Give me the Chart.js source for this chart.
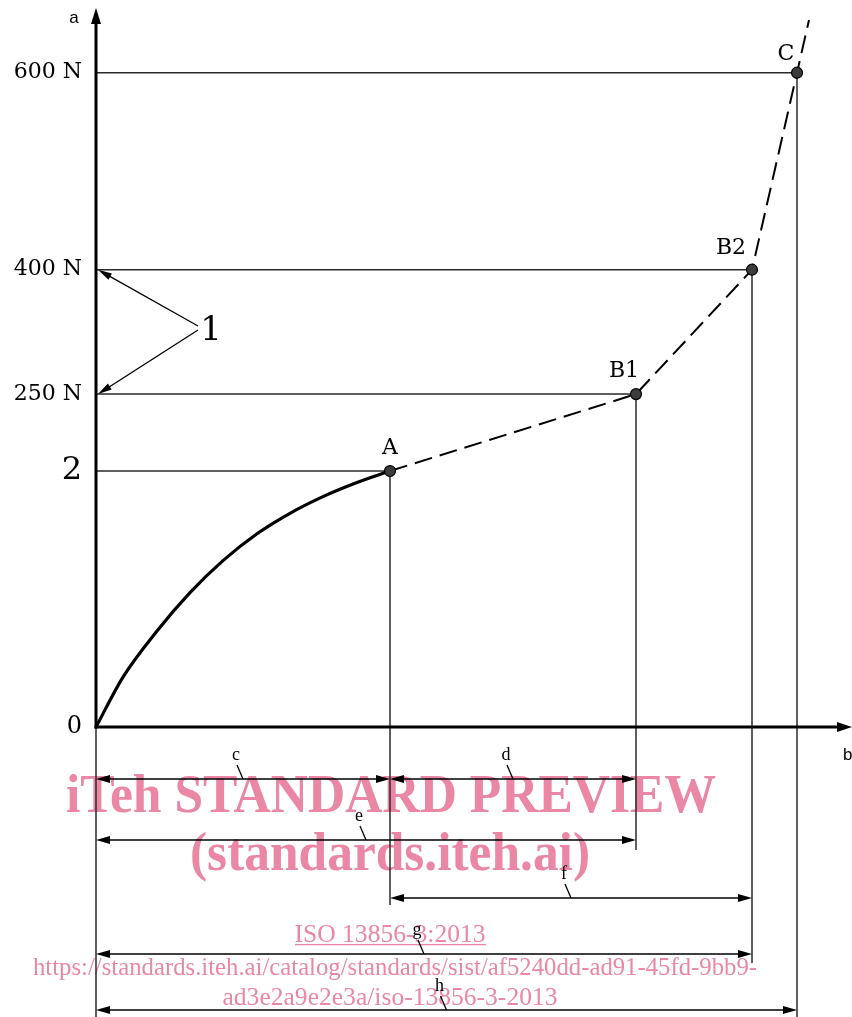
<!DOCTYPE html>
<html>
<head>
<meta charset="utf-8">
<script src="https://cdn.jsdelivr.net/npm/chart.js@4/dist/chart.umd.min.js"></script>
<style>
  html, body { margin: 0; padding: 0; background: #fff; overflow: hidden; }
  canvas { display: block; }
</style>
</head>
<body>
<canvas id="diagram" width="852" height="1017"></canvas>
<script>
// ---- Force / elongation data -------------------------------------------
const POINT_NAMES = ['A', 'B1', 'B2', 'C'];
const POINT_ELONG = [29.4, 54.0, 65.6, 70.1];      // b
const POINT_FORCE = [200, 250, 400, 600];          // a, N
const CURVE_ELONG = [0, 2.7, 6.1, 9.4, 12.7, 16.1, 19.4, 22.7, 26.1, 29.4];
const CURVE_FORCE = [0, 39, 75, 105, 130, 151, 167, 180, 191, 200];
const TAIL_ELONG = 71.3;                           // dashed line runs on past C
const TAIL_FORCE = 657;
const Y_TICK_VALUES = [0, 200, 250, 400, 600];
const Y_TICK_LABELS = ['0', '2', '250 N', '400 N', '600 N'];
const DIM_LABELS = ['c', 'd', 'e', 'f', 'g', 'h'];
const DIM_FROM   = ['O', 'A', 'O', 'A', 'O', 'O'];
const DIM_TO     = ['A', 'B1', 'B1', 'B2', 'B2', 'C'];

// ---- Layout ---------------------------------------------------------------
const DIM_ROWS = [779, 779, 840, 898, 954, 1010];
const EXT_BOTTOM = { O: 1017, A: 905, B1: 850, B2: 963, C: 1017 };
const LABEL_OFFSETS = { A: [0, -17], B1: [-12, -17], B2: [-21, -16], C: [-11, -13] };
const INK = '#000';
const THIN = '#2a2a2a';
const PINK = '#ea87a4';
const SERIF = '"DejaVu Serif", serif';

// The force axis is schematic: each force level sits at its own height.
class SchematicScale extends Chart.LinearScale {
  _seg(key, v) {
    const b = this.options.breaks;
    let i = 1;
    while (i < b.length - 1 && v > b[i][key]) i++;
    return [b[i - 1], b[i]];
  }
  getPixelForValue(value) {
    if (value === null || isNaN(value)) return NaN;
    const [p, q] = this._seg(0, value);
    return this.getPixelForDecimal(p[1] + (value - p[0]) * (q[1] - p[1]) / (q[0] - p[0]));
  }
  getValueForPixel(pixel) {
    const d = this.getDecimalForPixel(pixel);
    const [p, q] = this._seg(1, d);
    return p[0] + (d - p[1]) * (q[0] - p[0]) / (q[1] - p[1]);
  }
}
SchematicScale.id = 'schematic';
SchematicScale.defaults = Chart.LinearScale.defaults;
Chart.register(SchematicScale);

function xy(xsArr, ysArr) { return xsArr.map((x, i) => ({ x, y: ysArr[i] })); }

function arrowHead(ctx, tx, ty, dx, dy, len, half) {
  const n = Math.hypot(dx, dy); dx /= n; dy /= n;
  const bx = tx - dx * len, by = ty - dy * len;
  ctx.beginPath();
  ctx.moveTo(tx, ty);
  ctx.lineTo(bx - dy * half, by + dx * half);
  ctx.lineTo(bx + dy * half, by - dx * half);
  ctx.closePath();
  ctx.fill();
}

function line(ctx, x1, y1, x2, y2) {
  ctx.beginPath(); ctx.moveTo(x1, y1); ctx.lineTo(x2, y2); ctx.stroke();
}

function fittedText(ctx, text, cx, baseline, font, width) {
  ctx.save();
  ctx.font = font;
  const w = ctx.measureText(text).width;
  ctx.translate(cx, baseline);
  ctx.scale(width / w, 1);
  ctx.textAlign = 'center';
  ctx.textBaseline = 'alphabetic';
  ctx.fillText(text, 0, 0);
  ctx.restore();
}

const diagramPlugin = {
  id: 'diagram',
  beforeDraw(chart) {
    const ctx = chart.ctx;
    ctx.save();
    ctx.fillStyle = '#fff';
    ctx.fillRect(0, 0, chart.width, chart.height);
    // document watermark
    ctx.fillStyle = PINK;
    const wm = 'bold 54px "Liberation Serif", serif';
    fittedText(ctx, 'iTeh STANDARD PREVIEW', 391, 812, wm, 650);
    fittedText(ctx, '(standards.iteh.ai)', 390, 870, wm, 400);
    const rg = '25px "Liberation Serif", serif';
    fittedText(ctx, 'ISO 13856-3:2013', 390, 942, rg, 191);
    ctx.fillRect(295, 944, 191, 1.3);
    fittedText(ctx, 'https://standards.iteh.ai/catalog/standards/sist/af5240dd-ad91-45fd-9bb9-', 395, 975, rg, 724);
    fittedText(ctx, 'ad3e2a9e2e3a/iso-13856-3-2013', 390, 1005, rg, 335);
    ctx.restore();
  },
  beforeDatasetsDraw(chart) {
    const ctx = chart.ctx;
    const xs = chart.scales.x, ys = chart.scales.y;
    const px = n => xs.getPixelForValue(n === 'O' ? 0 : POINT_ELONG[POINT_NAMES.indexOf(n)]);
    const x0 = xs.getPixelForValue(0), y0 = ys.getPixelForValue(0);
    ctx.save();
    ctx.strokeStyle = THIN;
    ctx.lineWidth = 1.5;
    // level and extension lines from each marked point
    POINT_NAMES.forEach((n, i) => {
      const x = px(n), y = ys.getPixelForValue(POINT_FORCE[i]);
      line(ctx, x0, y, x, y);
      line(ctx, x, y, x, EXT_BOTTOM[n]);
    });
    line(ctx, x0, y0, x0, EXT_BOTTOM.O);
    // dimension lines
    ctx.fillStyle = INK;
    ctx.strokeStyle = INK;
    ctx.font = '18px "Liberation Serif", serif';
    ctx.textAlign = 'center';
    ctx.textBaseline = 'alphabetic';
    DIM_LABELS.forEach((lab, i) => {
      const a = px(DIM_FROM[i]), b = px(DIM_TO[i]), r = DIM_ROWS[i];
      ctx.lineWidth = 1.5;
      line(ctx, a + 4, r, b - 4, r);
      arrowHead(ctx, a, r, -1, 0, 14, 4);
      arrowHead(ctx, b, r, 1, 0, 14, 4);
      const mid = (a + b) / 2;
      ctx.lineWidth = 1.3;
      line(ctx, mid - 6, r - 14, mid, r);
      ctx.fillText(lab, mid - 7, r - 19);
    });
    ctx.restore();
  },
  afterDatasetsDraw(chart) {
    const ctx = chart.ctx;
    const xs = chart.scales.x, ys = chart.scales.y;
    const x0 = xs.getPixelForValue(0), y0 = ys.getPixelForValue(0);
    const area = chart.chartArea;
    ctx.save();
    ctx.strokeStyle = INK;
    ctx.fillStyle = INK;
    ctx.lineWidth = 3;
    // axes with arrows
    line(ctx, x0, y0 + 1.5, x0, area.top + 14);
    arrowHead(ctx, x0, area.top, 0, -1, 16, 5);
    line(ctx, x0 - 1.5, y0, area.right - 10, y0);
    arrowHead(ctx, area.right, y0, 1, 0, 15, 5);
    ctx.font = '17px "Liberation Sans", sans-serif';
    ctx.textAlign = 'center';
    ctx.textBaseline = 'alphabetic';
    ctx.fillText('a', 74, 23);
    ctx.textAlign = 'left';
    ctx.fillText('b', 843, 760);
    // point names
    ctx.font = '22px ' + SERIF;
    ctx.textAlign = 'center';
    POINT_NAMES.forEach((n, i) => {
      const [ox, oy] = LABEL_OFFSETS[n];
      ctx.fillText(n, xs.getPixelForValue(POINT_ELONG[i]) + ox, ys.getPixelForValue(POINT_FORCE[i]) + oy);
    });
    // callout 1 pointing at the 250 N and 400 N levels
    ctx.font = '34px ' + SERIF;
    ctx.fillText('1', 211, 340);
    ctx.lineWidth = 1.3;
    [400, 250].forEach((f, k) => {
      const ty = ys.getPixelForValue(f), sx = 198, sy = k ? 330 : 326;
      const tx = x0 + 2;
      const dx = tx - sx, dy = ty - sy, len = Math.hypot(dx, dy);
      line(ctx, sx, sy, tx - dx / len * 10, ty - dy / len * 10);
      arrowHead(ctx, tx, ty, dx, dy, 14, 3.5);
    });
    ctx.restore();
  }
};

new Chart(document.getElementById('diagram'), {
  type: 'scatter',
  data: {
    datasets: [
      {
        data: xy(CURVE_ELONG, CURVE_FORCE),
        showLine: true,
        borderColor: INK,
        borderWidth: 3.2,
        pointRadius: 0,
        cubicInterpolationMode: 'monotone',
        order: 3
      },
      {
        data: xy(POINT_ELONG.concat([TAIL_ELONG]), POINT_FORCE.concat([TAIL_FORCE])),
        showLine: true,
        borderColor: INK,
        borderWidth: 2,
        borderDash: [18, 8],
        pointRadius: 0,
        order: 2
      },
      {
        data: xy(POINT_ELONG, POINT_FORCE),
        showLine: false,
        pointRadius: 5.5,
        backgroundColor: '#3c3c3c',
        borderColor: INK,
        borderWidth: 1.2,
        order: 1
      }
    ]
  },
  options: {
    responsive: false,
    animation: false,
    devicePixelRatio: 1,
    layout: { autoPadding: false, padding: { left: 0, top: 8, right: 0, bottom: 290 } },
    plugins: { legend: { display: false }, tooltip: { enabled: false }, title: { display: false } },
    events: [],
    scales: {
      x: { type: 'linear', min: 0, max: 75.6, display: false },
      y: {
        type: 'schematic',
        min: 0,
        max: 670,
        breaks: [[0, 0], [200, 0.356], [250, 0.463], [400, 0.636], [600, 0.910], [670, 1]],
        grid: { display: false, drawTicks: false },
        border: { display: false },
        afterBuildTicks(scale) { scale.ticks = Y_TICK_VALUES.map(v => ({ value: v })); },
        afterFit(scale) {
          scale.width = 96;
          scale.paddingTop = 0; scale.paddingBottom = 0;
          scale.paddingLeft = 0; scale.paddingRight = 0;
        },
        ticks: {
          autoSkip: false,
          padding: 14,
          color: INK,
          callback: v => Y_TICK_LABELS[Y_TICK_VALUES.indexOf(v)],
          font: ctx => ({
            family: SERIF,
            size: !ctx.tick ? 22 : ctx.tick.value === 200 ? 32 : ctx.tick.value === 0 ? 24 : 22
          })
        }
      }
    }
  },
  plugins: [diagramPlugin]
});
</script>
</body>
</html>
